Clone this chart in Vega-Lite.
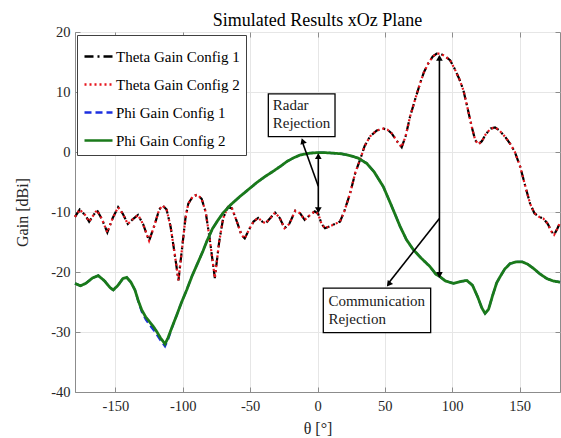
{
  "$schema": "https://vega.github.io/schema/vega-lite/v6.json",
  "width": 485,
  "height": 360,
  "autosize": {"type": "none"},
  "padding": {"left": 75, "top": 32, "right": 1, "bottom": 46},
  "background": "white",
  "title": {"text": "Simulated Results xOz Plane", "font": "Liberation Serif", "fontSize": 18, "fontWeight": "normal", "color": "#000000", "frame": "group", "offset": 5, "baseline": "alphabetic", "anchor": "middle", "dy": 25},
  "config": {
    "view": {"stroke": "#8c8c8c", "strokeWidth": 1},
    "axis": {"labelFont": "Liberation Serif", "titleFont": "Liberation Serif", "labelFontSize": 14.5, "titleFontSize": 16, "titleFontWeight": "normal", "labelColor": "#262626", "titleColor": "#262626", "gridColor": "#e6e6e6", "domainColor": "#8c8c8c", "tickColor": "#8c8c8c", "ticks": true, "tickSize": -5}
  },
  "datasets": {
    "theta": [
      {"t":-180,"th1":-10.8,"th2":-10.8},{"t":-176.5,"th1":-9.6,"th2":-9.6},{"t":-172.5,"th1":-10.5,"th2":-10.5},{"t":-169.5,"th1":-11.6,"th2":-11.6},{"t":-166.5,"th1":-10.6,"th2":-10.6},{"t":-163.7,"th1":-9.7,"th2":-9.7},{"t":-160,"th1":-11.2,"th2":-11.2},{"t":-156,"th1":-13.4,"th2":-13.4},{"t":-152,"th1":-11.0,"th2":-11.0},{"t":-148,"th1":-9.2,"th2":-9.2},{"t":-144.5,"th1":-10.3,"th2":-10.3},{"t":-140.8,"th1":-12.0,"th2":-12.0},{"t":-137,"th1":-11.2,"th2":-11.2},{"t":-133.2,"th1":-10.5,"th2":-10.5},{"t":-129.5,"th1":-12.0,"th2":-12.0},{"t":-125,"th1":-14.8,"th2":-14.8},{"t":-121,"th1":-12.2,"th2":-12.2},{"t":-117.5,"th1":-9.6,"th2":-9.6},{"t":-115,"th1":-8.9,"th2":-8.9},{"t":-112,"th1":-9.6,"th2":-9.6},{"t":-109,"th1":-12.5,"th2":-12.5},{"t":-106,"th1":-17.0,"th2":-17.0},{"t":-103.2,"th1":-21.4,"th2":-21.4},{"t":-100.5,"th1":-16.0,"th2":-16.0},{"t":-98,"th1":-11.0,"th2":-11.0},{"t":-95.9,"th1":-8.6,"th2":-8.6},{"t":-92.5,"th1":-7.4,"th2":-7.4},{"t":-89.2,"th1":-7.1,"th2":-7.1},{"t":-86,"th1":-7.8,"th2":-7.8},{"t":-83,"th1":-10.0,"th2":-10.0},{"t":-80,"th1":-14.5,"th2":-14.5},{"t":-76.2,"th1":-21.0,"th2":-21.0},{"t":-73,"th1":-15.0,"th2":-15.0},{"t":-70,"th1":-11.0,"th2":-11.0},{"t":-66.5,"th1":-9.2,"th2":-9.2},{"t":-63.5,"th1":-9.4,"th2":-9.4},{"t":-60,"th1":-11.5,"th2":-11.5},{"t":-56.5,"th1":-13.8,"th2":-13.8},{"t":-54,"th1":-14.4,"th2":-14.4},{"t":-51,"th1":-13.0,"th2":-13.0},{"t":-47.5,"th1":-11.6,"th2":-11.6},{"t":-44,"th1":-11.0,"th2":-11.0},{"t":-41,"th1":-11.6,"th2":-11.6},{"t":-38.5,"th1":-11.9,"th2":-11.9},{"t":-35,"th1":-11.0,"th2":-11.0},{"t":-31.5,"th1":-10.1,"th2":-10.1},{"t":-28,"th1":-11.0,"th2":-11.0},{"t":-24.5,"th1":-12.7,"th2":-12.7},{"t":-21,"th1":-12.0,"th2":-12.0},{"t":-16.5,"th1":-9.8,"th2":-9.8},{"t":-13,"th1":-10.2,"th2":-10.2},{"t":-9.5,"th1":-11.3,"th2":-11.3},{"t":-6,"th1":-10.6,"th2":-10.6},{"t":-2,"th1":-9.9,"th2":-9.9},{"t":0.5,"th1":-10.3,"th2":-10.3},{"t":3,"th1":-12.0,"th2":-12.0},{"t":5.6,"th1":-12.7,"th2":-12.7},{"t":9,"th1":-12.4,"th2":-12.4},{"t":13,"th1":-12.0,"th2":-12.0},{"t":16.7,"th1":-11.6,"th2":-11.6},{"t":20,"th1":-9.8,"th2":-9.8},{"t":24.2,"th1":-6.9,"th2":-6.9},{"t":28,"th1":-3.5,"th2":-3.5},{"t":31.6,"th1":-1.3,"th2":-1.3},{"t":35,"th1":1.0,"th2":1.0},{"t":39,"th1":2.6,"th2":2.6},{"t":44,"th1":3.6,"th2":3.6},{"t":48.9,"th1":3.9,"th2":3.9},{"t":52,"th1":3.7,"th2":3.7},{"t":55.1,"th1":3.1,"th2":3.1},{"t":59,"th1":1.8,"th2":1.8},{"t":62.5,"th1":0.8,"th2":0.8},{"t":65.5,"th1":2.7,"th2":2.7},{"t":68.7,"th1":5.9,"th2":5.9},{"t":72.5,"th1":8.8,"th2":8.8},{"t":76.1,"th1":11.4,"th2":11.4},{"t":79,"th1":13.3,"th2":13.3},{"t":82.3,"th1":14.8,"th2":14.8},{"t":85.5,"th1":15.9,"th2":15.9},{"t":88.5,"th1":16.4,"th2":16.4},{"t":91,"th1":16.4,"th2":16.4},{"t":94.5,"th1":16.0,"th2":16.0},{"t":98.4,"th1":15.3,"th2":15.3},{"t":101.5,"th1":14.0,"th2":14.0},{"t":105,"th1":12.3,"th2":12.3},{"t":108.3,"th1":10.3,"th2":10.3},{"t":111.5,"th1":7.2,"th2":7.2},{"t":114.5,"th1":4.2,"th2":4.2},{"t":117,"th1":2.0,"th2":2.0},{"t":119.4,"th1":1.3,"th2":1.3},{"t":122,"th1":1.8,"th2":1.8},{"t":125,"th1":3.0,"th2":3.0},{"t":128.5,"th1":3.9,"th2":3.9},{"t":131.8,"th1":4.1,"th2":4.1},{"t":135,"th1":3.6,"th2":3.6},{"t":139,"th1":2.6,"th2":2.6},{"t":142.9,"th1":1.4,"th2":1.4},{"t":146.5,"th1":0.0,"th2":0.0},{"t":150.4,"th1":-2.4,"th2":-2.4},{"t":154,"th1":-5.5,"th2":-5.5},{"t":157.8,"th1":-8.6,"th2":-8.6},{"t":161,"th1":-10.2,"th2":-10.2},{"t":164.5,"th1":-10.8,"th2":-10.8},{"t":167.7,"th1":-11.1,"th2":-11.1},{"t":171,"th1":-12.0,"th2":-12.0},{"t":173.5,"th1":-13.2,"th2":-13.2},{"t":175.6,"th1":-13.8,"th2":-13.8},{"t":178,"th1":-12.8,"th2":-12.8},{"t":180,"th1":-11.8,"th2":-11.8}
    ],
    "phi": [
      {"t":-180,"ph1":-21.9,"ph2":-21.9},{"t":-176,"ph1":-22.3,"ph2":-22.3},{"t":-172,"ph1":-21.9,"ph2":-21.9},{"t":-167,"ph1":-21.0,"ph2":-21.0},{"t":-162.7,"ph1":-20.6,"ph2":-20.6},{"t":-158,"ph1":-21.5,"ph2":-21.5},{"t":-154,"ph1":-22.6,"ph2":-22.6},{"t":-151.6,"ph1":-23.0,"ph2":-23.0},{"t":-148,"ph1":-22.2,"ph2":-22.2},{"t":-144.5,"ph1":-21.1,"ph2":-21.1},{"t":-141.6,"ph1":-20.9,"ph2":-20.9},{"t":-138.5,"ph1":-21.7,"ph2":-21.7},{"t":-135.5,"ph1":-23.0,"ph2":-23.0},{"t":-133,"ph1":-24.9,"ph2":-24.8},{"t":-130.5,"ph1":-26.6,"ph2":-26.3},{"t":-127.5,"ph1":-27.9,"ph2":-27.5},{"t":-124.3,"ph1":-28.9,"ph2":-28.4},{"t":-121.5,"ph1":-29.7,"ph2":-29.2},{"t":-119.4,"ph1":-30.4,"ph2":-29.9},{"t":-116.5,"ph1":-31.4,"ph2":-31.0},{"t":-113.2,"ph1":-32.4,"ph2":-32.0},{"t":-111,"ph1":-31.3,"ph2":-31.0},{"t":-108,"ph1":-29.3,"ph2":-29.2},{"t":-104.5,"ph1":-27.2,"ph2":-27.2},{"t":-101,"ph1":-25.1,"ph2":-25.1},{"t":-97.1,"ph1":-23.0,"ph2":-23.0},{"t":-93,"ph1":-20.6,"ph2":-20.6},{"t":-88.5,"ph1":-18.3,"ph2":-18.3},{"t":-85,"ph1":-16.5,"ph2":-16.5},{"t":-82.2,"ph1":-14.9,"ph2":-14.9},{"t":-78,"ph1":-12.8,"ph2":-12.8},{"t":-74,"ph1":-11.4,"ph2":-11.4},{"t":-69.9,"ph1":-10.1,"ph2":-10.1},{"t":-64,"ph1":-8.7,"ph2":-8.7},{"t":-57.5,"ph1":-7.4,"ph2":-7.4},{"t":-51,"ph1":-6.2,"ph2":-6.2},{"t":-45.1,"ph1":-5.1,"ph2":-5.1},{"t":-39,"ph1":-4.1,"ph2":-4.1},{"t":-32.8,"ph1":-3.2,"ph2":-3.2},{"t":-27,"ph1":-2.3,"ph2":-2.3},{"t":-22.8,"ph1":-1.6,"ph2":-1.6},{"t":-18,"ph1":-1.0,"ph2":-1.0},{"t":-12.9,"ph1":-0.5,"ph2":-0.5},{"t":-6,"ph1":-0.2,"ph2":-0.2},{"t":0,"ph1":-0.1,"ph2":-0.1},{"t":5,"ph1":-0.1,"ph2":-0.1},{"t":12,"ph1":-0.2,"ph2":-0.2},{"t":18,"ph1":-0.3,"ph2":-0.3},{"t":24.2,"ph1":-0.6,"ph2":-0.6},{"t":30,"ph1":-1.0,"ph2":-1.0},{"t":36.6,"ph1":-1.9,"ph2":-1.9},{"t":42,"ph1":-3.3,"ph2":-3.3},{"t":48.9,"ph1":-5.8,"ph2":-5.8},{"t":55,"ph1":-9.0,"ph2":-9.0},{"t":61.3,"ph1":-12.4,"ph2":-12.4},{"t":66,"ph1":-14.6,"ph2":-14.6},{"t":71.2,"ph1":-16.3,"ph2":-16.3},{"t":77,"ph1":-17.7,"ph2":-17.7},{"t":83.5,"ph1":-19.1,"ph2":-19.1},{"t":88,"ph1":-20.4,"ph2":-20.4},{"t":91,"ph1":-20.8,"ph2":-20.8},{"t":95,"ph1":-21.5,"ph2":-21.5},{"t":100.9,"ph1":-21.9,"ph2":-21.9},{"t":106,"ph1":-21.6,"ph2":-21.6},{"t":110.8,"ph1":-21.4,"ph2":-21.4},{"t":115,"ph1":-22.2,"ph2":-22.2},{"t":119,"ph1":-24.2,"ph2":-24.2},{"t":122,"ph1":-26.0,"ph2":-26.0},{"t":124.4,"ph1":-26.9,"ph2":-26.9},{"t":127,"ph1":-26.2,"ph2":-26.2},{"t":130,"ph1":-23.9,"ph2":-23.9},{"t":133,"ph1":-21.8,"ph2":-21.8},{"t":135.5,"ph1":-20.8,"ph2":-20.8},{"t":139,"ph1":-19.5,"ph2":-19.5},{"t":143,"ph1":-18.6,"ph2":-18.6},{"t":147.9,"ph1":-18.3,"ph2":-18.3},{"t":152,"ph1":-18.3,"ph2":-18.3},{"t":156,"ph1":-18.7,"ph2":-18.7},{"t":160.3,"ph1":-19.4,"ph2":-19.4},{"t":165,"ph1":-20.3,"ph2":-20.3},{"t":170.2,"ph1":-21.1,"ph2":-21.1},{"t":175,"ph1":-21.5,"ph2":-21.5},{"t":180,"ph1":-21.7,"ph2":-21.7}
    ],
    "box": [{"t":-36.5,"t2":13.0,"g":9.7,"g2":2.55},{"t":4.3,"t2":84.0,"g":-22.7,"g2":-30.1}],
    "txt": [{"t":-33.2,"g":7.8,"label":"Radar"},{"t":-33.2,"g":4.8,"label":"Rejection"},{"t":8.1,"g":-24.8,"label":"Communication"},{"t":8.1,"g":-27.8,"label":"Rejection"}],
    "seg": [{"t":0.6,"g":-0.4,"t2":0.6,"g2":-10.0},{"t":0.6,"g":-5.7,"t2":-11.3,"g2":1.7},{"t":90.5,"g":15.9,"t2":90.5,"g2":-20.8},{"t":90.5,"g":-11.1,"t2":52.5,"g2":-21.9}],
    "up": [{"t":0.6,"g":-0.7},{"t":90.5,"g":15.7}],
    "down": [{"t":0.6,"g":-9.7},{"t":90.5,"g":-20.5}],
    "headA": [{"t":-11.0,"g":1.83}],
    "headB": [{"t":52.8,"g":-22.05}],
    "anchor": [{"t":0,"g":0}]
  },
  "layer": [
    {
      "encoding": {
        "x": {"field": "t", "type": "quantitative", "scale": {"domain": [-180, 180], "nice": false, "zero": false}, "axis": {"title": "θ [°]", "values": [-150, -100, -50, 0, 50, 100, 150], "grid": true, "labelPadding": 12, "titlePadding": 8, "labelExpr": "'' + datum.value"}},
        "y": {"field": "g", "type": "quantitative", "scale": {"domain": [-40, 20], "nice": false, "zero": false}, "axis": {"title": "Gain [dBi]", "values": [-40, -30, -20, -10, 0, 10, 20], "grid": true, "labelPadding": 10, "titlePadding": 20, "labelExpr": "'' + datum.value"}}
      },
      "layer": [
        {
          "data": {"name": "theta"},
          "transform": [{"fold": ["th1"], "as": ["s", "g"]}],
          "mark": {"type": "line", "strokeWidth": 2.2},
          "encoding": {
            "color": {"field": "s", "type": "nominal", "scale": {"domain": ["th1", "th2", "ph1", "ph2"], "range": ["#000000", "#e8141c", "#1c2fe0", "#1a7a1a"]}, "legend": {"orient": "none", "legendX": 2, "legendY": 3, "title": null, "fillColor": "white", "strokeColor": "#404040", "padding": 6, "labelFont": "Liberation Serif", "labelFontSize": 15, "labelColor": "#000000", "symbolType": "stroke", "symbolSize": 784, "symbolStrokeWidth": 2.5, "rowPadding": 4, "labelOffset": 2, "labelLimit": 300, "labelExpr": "{'th1':'Theta Gain Config 1','th2':'Theta Gain Config 2','ph1':'Phi Gain Config 1','ph2':'Phi Gain Config 2'}[datum.label]"}},
            "strokeDash": {"field": "s", "type": "nominal", "scale": {"domain": ["th1", "th2", "ph1", "ph2"], "range": [[9, 4, 2, 4], [2, 3], [7, 4], [1, 0]]}, "legend": {"orient": "none", "legendX": 2, "legendY": 3, "title": null, "fillColor": "white", "strokeColor": "#404040", "padding": 6, "labelFont": "Liberation Serif", "labelFontSize": 15, "labelColor": "#000000", "symbolType": "stroke", "symbolSize": 784, "symbolStrokeWidth": 2.5, "rowPadding": 4, "labelOffset": 2, "labelLimit": 300, "labelExpr": "{'th1':'Theta Gain Config 1','th2':'Theta Gain Config 2','ph1':'Phi Gain Config 1','ph2':'Phi Gain Config 2'}[datum.label]"}}
          }
        },
        {
          "data": {"name": "theta"},
          "transform": [{"fold": ["th2"], "as": ["s", "g"]}],
          "mark": {"type": "line", "strokeWidth": 2.2},
          "encoding": {
            "color": {"field": "s", "type": "nominal", "scale": {"domain": ["th1", "th2", "ph1", "ph2"], "range": ["#000000", "#e8141c", "#1c2fe0", "#1a7a1a"]}},
            "strokeDash": {"field": "s", "type": "nominal", "scale": {"domain": ["th1", "th2", "ph1", "ph2"], "range": [[9, 4, 2, 4], [2, 3], [7, 4], [1, 0]]}}
          }
        },
        {
          "data": {"name": "phi"},
          "transform": [{"fold": ["ph1"], "as": ["s", "g"]}],
          "mark": {"type": "line", "strokeWidth": 2.2},
          "encoding": {
            "color": {"field": "s", "type": "nominal", "scale": {"domain": ["th1", "th2", "ph1", "ph2"], "range": ["#000000", "#e8141c", "#1c2fe0", "#1a7a1a"]}},
            "strokeDash": {"field": "s", "type": "nominal", "scale": {"domain": ["th1", "th2", "ph1", "ph2"], "range": [[9, 4, 2, 4], [2, 3], [7, 4], [1, 0]]}}
          }
        },
        {
          "data": {"name": "phi"},
          "transform": [{"fold": ["ph2"], "as": ["s", "g"]}],
          "mark": {"type": "line", "strokeWidth": 2.8},
          "encoding": {
            "color": {"field": "s", "type": "nominal", "scale": {"domain": ["th1", "th2", "ph1", "ph2"], "range": ["#000000", "#e8141c", "#1c2fe0", "#1a7a1a"]}},
            "strokeDash": {"field": "s", "type": "nominal", "scale": {"domain": ["th1", "th2", "ph1", "ph2"], "range": [[9, 4, 2, 4], [2, 3], [7, 4], [1, 0]]}}
          }
        },
        {
          "data": {"name": "seg"},
          "mark": {"type": "rule", "color": "#000000", "strokeWidth": 1.6},
          "encoding": {"x2": {"field": "t2"}, "y2": {"field": "g2"}}
        },
        {
          "data": {"name": "up"},
          "mark": {"type": "point", "shape": "triangle-up", "filled": true, "color": "#000000", "size": 45, "opacity": 1},
          "encoding": {}
        },
        {
          "data": {"name": "down"},
          "mark": {"type": "point", "shape": "triangle-down", "filled": true, "color": "#000000", "size": 45, "opacity": 1},
          "encoding": {}
        },
        {
          "data": {"name": "headA"},
          "mark": {"type": "point", "shape": "triangle-up", "filled": true, "color": "#000000", "size": 45, "opacity": 1, "angle": 341},
          "encoding": {}
        },
        {
          "data": {"name": "headB"},
          "mark": {"type": "point", "shape": "triangle-down", "filled": true, "color": "#000000", "size": 45, "opacity": 1, "angle": 38},
          "encoding": {}
        },
        {
          "data": {"name": "box"},
          "mark": {"type": "rect", "fill": "white", "stroke": "#000000", "strokeWidth": 1.3},
          "encoding": {"x2": {"field": "t2"}, "y2": {"field": "g2"}}
        },
        {
          "data": {"name": "txt"},
          "mark": {"type": "text", "align": "left", "baseline": "middle", "font": "Liberation Serif", "fontSize": 15, "color": "#1a1a1a"},
          "encoding": {"text": {"field": "label"}}
        }
      ]
    },
    {
      "data": {"name": "anchor"},
      "mark": {"type": "point", "opacity": 0},
      "encoding": {
        "x": {"field": "t", "type": "quantitative", "scale": {"domain": [-180, 180], "nice": false, "zero": false}, "axis": {"orient": "top", "title": null, "labels": false, "domain": false, "grid": false, "values": [-150, -100, -50, 0, 50, 100, 150]}},
        "y": {"field": "g", "type": "quantitative", "scale": {"domain": [-40, 20], "nice": false, "zero": false}, "axis": {"orient": "right", "title": null, "labels": false, "domain": false, "grid": false, "values": [-40, -30, -20, -10, 0, 10, 20]}}
      }
    }
  ],
  "resolve": {"axis": {"x": "independent", "y": "independent"}}
}
